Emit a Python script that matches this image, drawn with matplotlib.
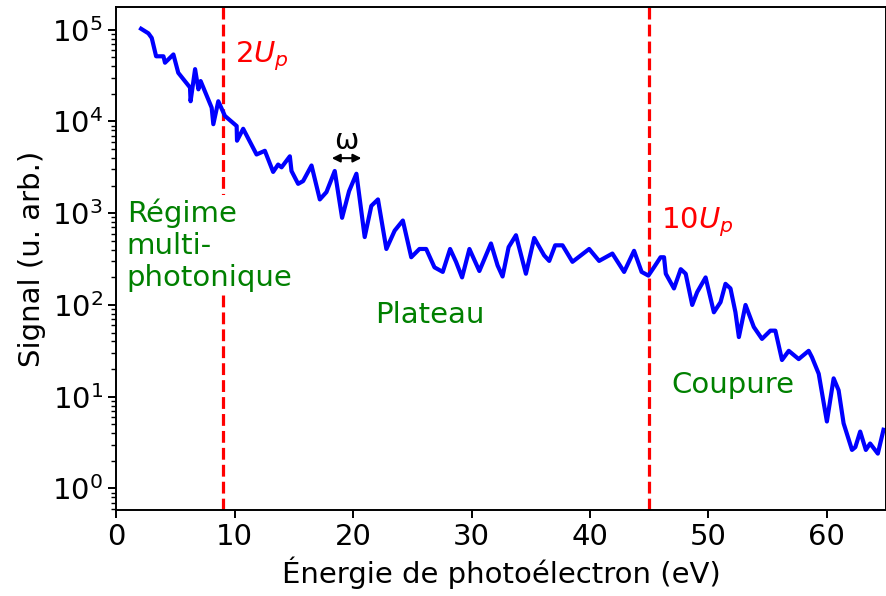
import numpy as np
import matplotlib
matplotlib.use("Agg")
import matplotlib.pyplot as plt

# Photoelectron energy (eV) and log10 of signal
energy = [2.1, 2.72, 3.0, 3.37, 3.99, 4.12, 4.83, 5.24, 6.23, 6.28, 6.66, 6.94, 7.13,
          8.06, 8.2, 8.62, 9.18, 10.17, 10.2, 10.72, 11.85, 12.55, 13.25, 13.67, 13.96,
          14.66, 14.8, 15.36, 15.78, 16.49, 17.19, 17.75, 18.45, 19.07, 19.66, 20.28,
          20.98, 21.54, 22.1, 22.81, 23.51, 24.2, 24.91, 25.6, 26.17, 26.87, 27.57,
          28.19, 28.69, 29.2, 29.82, 30.66, 31.64, 32.2, 32.62, 33.13, 33.75, 34.59,
          35.29, 36.13, 36.56, 37.06, 37.68, 38.52, 39.93, 40.77, 41.89, 42.88, 43.72,
          44.36, 44.93, 45.4, 45.96, 46.25, 46.4, 47.09, 47.66, 48.08, 48.63, 49.05,
          49.76, 50.46, 51.02, 51.44, 51.86, 52.28, 52.57, 53.13, 53.83, 54.52, 55.23,
          55.65, 56.21, 56.78, 57.62, 58.46, 58.74, 59.31, 60.0, 60.57, 60.99, 61.41,
          62.12, 62.4, 62.81, 63.29, 63.65, 64.3, 64.78]
log_signal = [5.01, 4.96, 4.91, 4.71, 4.71, 4.64, 4.73, 4.53, 4.37, 4.22, 4.57, 4.35, 4.44,
              4.15, 3.97, 4.22, 4.06, 3.95, 3.79, 3.92, 3.64, 3.68, 3.45, 3.53, 3.50,
              3.62, 3.46, 3.32, 3.35, 3.52, 3.15, 3.23, 3.46, 2.95, 3.24, 3.43,
              2.74, 3.08, 3.15, 2.61, 2.81, 2.92, 2.52, 2.61, 2.61, 2.41, 2.36,
              2.61, 2.47, 2.30, 2.61, 2.37, 2.67, 2.43, 2.31, 2.63, 2.76, 2.34,
              2.73, 2.54, 2.48, 2.65, 2.65, 2.47, 2.61, 2.48, 2.56, 2.36, 2.59,
              2.36, 2.32, 2.41, 2.52, 2.52, 2.34, 2.18, 2.39, 2.34, 2.00, 2.14,
              2.30, 1.92, 2.03, 2.23, 2.18, 1.92, 1.65, 2.00, 1.76, 1.63, 1.72,
              1.72, 1.40, 1.50, 1.41, 1.50, 1.43, 1.25, 0.73, 1.20, 1.07, 0.71,
              0.42, 0.45, 0.62, 0.42, 0.49, 0.38, 0.64]
signal = [10 ** v for v in log_signal]

x_ticks = [0, 10, 20, 30, 40, 50, 60]
up2 = 9
up10 = 45

plt.rcParams['font.family'] = ['DejaVu Sans']
plt.rcParams['font.size'] = 21
plt.rcParams['mathtext.fontset'] = 'dejavusans'

fig = plt.figure(figsize=(8.87, 5.96), dpi=100)
ax = fig.add_axes([0.131, 0.144, 0.868, 0.844])

ax.plot(energy, signal, color='#0000ff', lw=3.0, zorder=2)
ax.axvline(up2, color='red', ls='--', lw=2.3, zorder=1)
ax.axvline(up10, color='red', ls='--', lw=2.3, zorder=1)

ax.set_yscale('log')
ax.set_xlim(0, 65)
ax.set_ylim(0.58, 1.76e5)
ax.set_xticks(x_ticks)
ax.set_xlabel('Énergie de photoélectron (eV)')
ax.set_ylabel('Signal (u. arb.)')
for s in ax.spines.values():
    s.set_linewidth(1.4)
ax.tick_params(width=1.4, length=6)
ax.tick_params(which='minor', width=1.0, length=3.5)

ax.text(10.0, 10 ** 4.71, '$2U_p$', color='red', ha='left', va='center')
ax.text(46.0, 10 ** 2.90, '$10U_p$', color='red', ha='left', va='center')
ax.text(0.9, 10 ** 2.65, 'Régime\nmulti-\nphotonique', color='green', ha='left',
        va='center', linespacing=1.2,
        bbox=dict(facecolor='white', edgecolor='none', pad=2), zorder=3)
ax.text(26.5, 10 ** 1.89, 'Plateau', color='green', ha='center', va='center')
ax.text(52.1, 10 ** 1.13, 'Coupure', color='green', ha='center', va='center')

ax.annotate('', xy=(18.2, 10 ** 3.6), xytext=(20.7, 10 ** 3.6),
            arrowprops=dict(arrowstyle='<|-|>', color='black', lw=1.5,
                            shrinkA=0, shrinkB=0, mutation_scale=12))
ax.text(19.45, 10 ** 3.79, 'ω', color='black', ha='center', va='center')

fig.savefig('out.png', dpi=100)
